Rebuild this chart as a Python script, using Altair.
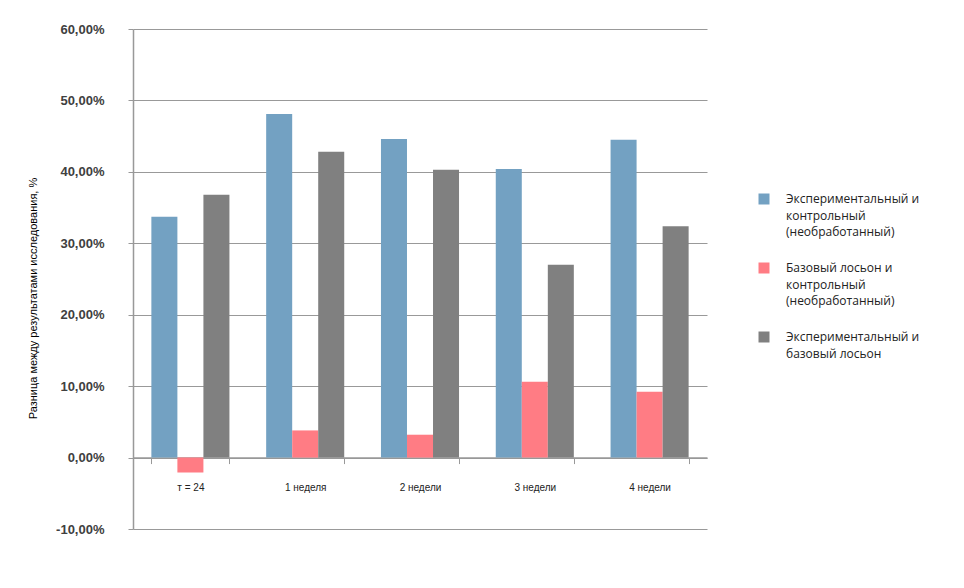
import altair as alt
import pandas as pd

categories = ["т = 24", "1 неделя", "2 недели", "3 недели", "4 недели"]
series = [
    "Экспериментальный и\nконтрольный\n(необработанный)",
    "Базовый лосьон и\nконтрольный\n(необработанный)",
    "Экспериментальный и\nбазовый лосьон",
]
colors = ["#73A1C2", "#FF7C84", "#808080"]
exp_vs_control = [0.337, 0.481, 0.446, 0.404, 0.445]
base_vs_control = [-0.021, 0.038, 0.032, 0.106, 0.092]
exp_vs_base = [0.368, 0.428, 0.403, 0.270, 0.324]
y_ticks = [-0.1, 0.0, 0.1, 0.2, 0.3, 0.4, 0.5, 0.6]

rows = []
for s, vals in zip(series, [exp_vs_control, base_vs_control, exp_vs_base]):
    for c, v in zip(categories, vals):
        rows.append({"cat": c, "series": s, "value": v})
df = pd.DataFrame(rows)

W, H = 574, 500
zero_off = H * 0.1 / 0.7

chart = alt.Chart(df).mark_bar().encode(
    x=alt.X("cat:N", sort=categories,
            scale=alt.Scale(paddingInner=0.32, paddingOuter=0.16),
            axis=alt.Axis(title=None, orient="bottom", offset=-zero_off,
                          labelAngle=0, labelFont="Liberation Sans", labelFontSize=10,
                          labelColor="#222222", labelPadding=19, tickBand="extent",
                          tickSize=6, tickColor="#999999", domainColor="#999999",
                          grid=False)),
    xOffset=alt.XOffset("series:N", sort=series, scale=alt.Scale(paddingInner=0, paddingOuter=0)),
    y=alt.Y("value:Q", scale=alt.Scale(domain=[-0.1, 0.6], nice=False, zero=False),
            axis=alt.Axis(values=y_ticks,
                          labelExpr="replace(replace(format(datum.value, '.2%'), '.', ','), '\u2212', '-')",
                          title="Разница между результатами исследования, %",
                          titleFont="Liberation Sans", titleFontSize=11, titleFontWeight="normal",
                          titleColor="#000000", titleX=-95, titleY=269,
                          labelFont="Liberation Sans", labelFontSize=13, labelFontWeight="bold",
                          labelColor="#404040", labelPadding=24, tickSize=5,
                          tickColor="#999999", domainColor="#999999",
                          gridColor="#999999", gridOpacity=1)),
    color=alt.Color("series:N", sort=series,
                    scale=alt.Scale(domain=series, range=colors),
                    legend=alt.Legend(title=None, orient="none", legendX=625, legendY=164,
                                      symbolType="square", symbolSize=121, symbolStrokeWidth=0,
                                      labelFont="Open Sans", labelFontSize=12, labelColor="#222222",
                                      labelOffset=16, rowPadding=24, labelLimit=300,
                                      labelExpr="split(datum.label, '\\n')")),
).properties(
    width=W, height=H,
    autosize=alt.AutoSizeParams(type="none"),
    padding={"left": 125, "top": 21, "right": 249, "bottom": 51},
).configure(
    style={"guide-label": {"lineHeight": 16.5}}
).configure_view(stroke=None).configure_axis(domainWidth=1.5)

chart.save("out.html", embed_options={"renderer": "svg", "actions": False})
